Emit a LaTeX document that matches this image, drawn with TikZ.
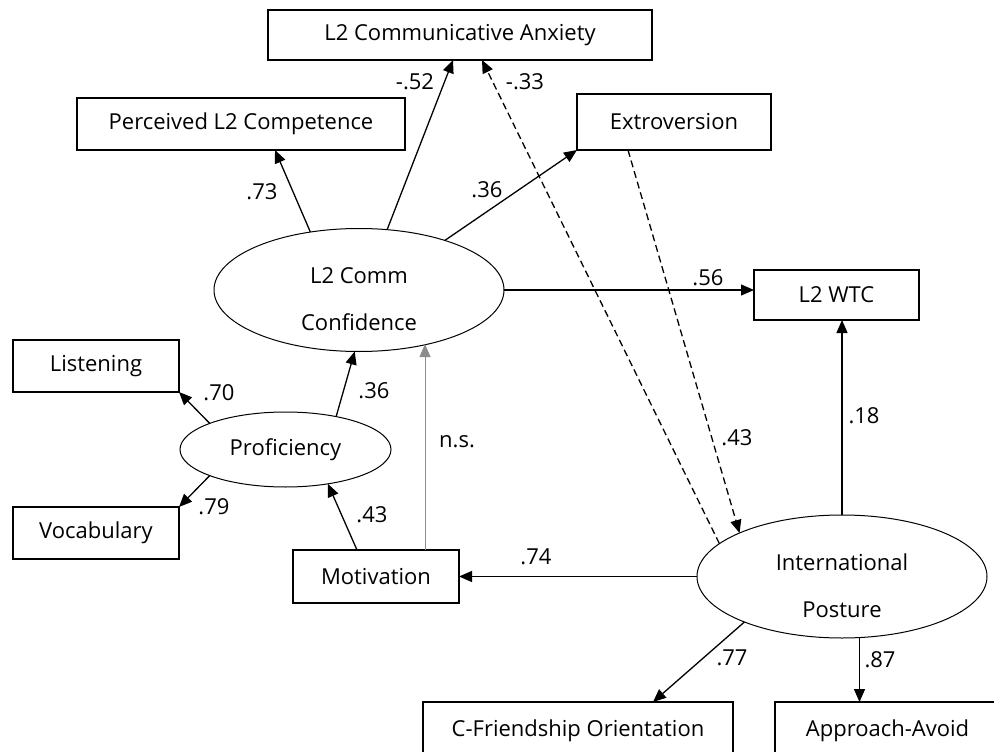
\documentclass[tikz,border=0pt]{standalone}
\usepackage{fontspec}
\setmainfont{Open Sans}
\usetikzlibrary{shapes.geometric,arrows.meta,positioning}

\tikzset{
  obs/.style={draw,line width=1.3pt,minimum height=52pt,inner sep=0pt,outer sep=0pt},
  lat/.style={draw,ellipse,line width=1pt,inner sep=0pt,outer sep=0pt,align=center,
    font=\fontsize{22}{47}\selectfont},
  eff/.style={line width=1.3pt,-{Triangle[length=13pt,width=11pt]}},
  corr/.style={eff,dash pattern=on 7pt off 4pt},
  nsline/.style={line width=1pt,black!45,-{Triangle[length=13pt,width=11pt]}},
}
\newcommand{\lowtxt}{\rule{0pt}{35pt}}

\begin{document}
\begin{tikzpicture}[x=1pt,y=-1pt,font=\fontsize{22}{26}\selectfont]
\clip (0,0) rectangle (994,752);

\node[obs,minimum width=384pt,minimum height=50pt] (anx) at (460,35) {L2 Communicative Anxiety};
\node[obs,minimum width=328pt] (perc) at (241,124) {Perceived L2 Competence};
\node[obs,minimum width=194pt,minimum height=56pt] (ext) at (674,122) {Extroversion};
\node[lat,minimum width=290pt,minimum height=123pt] (conf) at (359,290) {\lowtxt L2 Comm\\Confidence};
\node[obs,minimum width=165pt,minimum height=50pt] (wtc) at (836.5,295) {L2 WTC};
\node[obs,minimum width=166pt] (list) at (96,366) {Listening};
\node[obs,minimum width=166pt] (voc) at (96,533) {Vocabulary};
\node[lat,minimum width=211pt,minimum height=75pt] (prof) at (285.5,449.5) {Proficiency};
\node[obs,minimum width=166pt,minimum height=53pt] (mot) at (376,576.5) {Motivation};
\node[lat,minimum width=290pt,minimum height=123pt] (ip) at (842,576.5) {\lowtxt International\\Posture};
\node[obs,minimum width=310pt,minimum height=58pt] (cfo) at (578,731) {C-Friendship Orientation};
\node[obs,minimum width=225pt,minimum height=58pt] (app) at (887.5,731) {Approach-Avoid};

% confidence paths
\draw[eff] (conf.130.4) -- ([xshift=34pt]perc.south);
\draw[eff] (conf.65.7) -- ([xshift=-7pt]anx.south);
\draw[eff] (conf.30.6) -- (ext.south west);
\draw[eff] (conf.east) -- (conf.east -| wtc.west);

% proficiency
\draw[eff] (prof.161.8) -- (list.south east);
\draw[eff] (prof.199.5) -- (voc.north east);
\draw[eff] (prof.33.3) -- (conf.266.3);
\draw[eff] ([xshift=-19pt]mot.north) -- (prof.321.7);
\draw[nsline] ([xshift=49pt]mot.north) -- ([xshift=49pt]mot.north |- conf.-38);

% international posture
\draw[eff] (ip.west) -- (ip.west -| mot.east);
\draw[eff] (ip.north) -- (ip.north |- wtc.south);
\draw[eff] (ip.205) -- ([xshift=75pt]cfo.north);
\draw[eff] (ip.-74.5) -- (ip.-74.5 |- app.north);
\draw[corr] (ip.165.9) -- ([xshift=22pt]anx.south);
\draw[corr] ([xshift=-46pt]ext.south) -- (ip.157.5);

% weights
\node (w73) at (262,192) {.73};
\node (w52) at (415,82) {-.52};
\node (w33) at (525,82) {-.33};
\node (w36a) at (487,190) {.36};
\node (w56) at (708,278) {.56};
\node (w70) at (219,393) {.70};
\node (w79) at (214,507) {.79};
\node (w36b) at (374,391) {.36};
\node (w43a) at (372,515) {.43};
\node (wns) at (457,442) {n.s.};
\node (w74) at (536,557) {.74};
\node (w43b) at (737,438) {.43};
\node (w18) at (864,416) {.18};
\node (w77) at (732,658) {.77};
\node (w87) at (880,660) {.87};
\end{tikzpicture}
\end{document}
